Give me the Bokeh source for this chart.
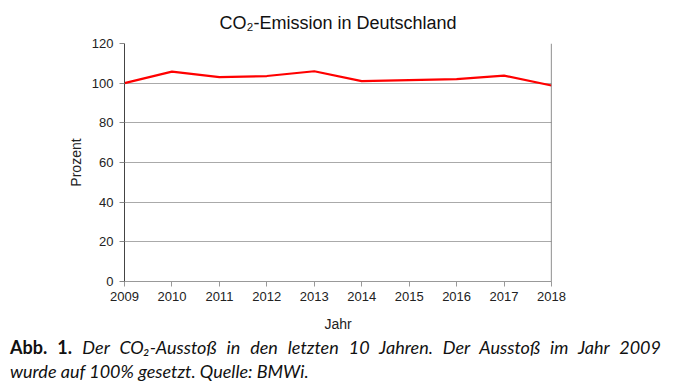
from bokeh.plotting import figure
from bokeh.models import Range1d, Span, FixedTicker, Div
from bokeh.layouts import column
from bokeh.embed import file_html
from bokeh.resources import INLINE

years = [2009, 2010, 2011, 2012, 2013, 2014, 2015, 2016, 2017, 2018]
prozent = [100.0, 105.8, 103.0, 103.6, 106.0, 101.0, 101.5, 102.0, 103.8, 98.8]
y_ticks = [0, 20, 40, 60, 80, 100, 120]

title_text = "CO\u2082-Emission in Deutschland"
x_label = "Jahr"
y_label = "Prozent"
cap_bold = "Abb. 1."
cap_line1 = "Der CO\u2082-Ausstoß in den letzten 10 Jahren. Der Ausstoß im Jahr 2009"
cap_line2 = "wurde auf 100% gesetzt. Quelle: BMWi."

FONT = "Liberation Sans"
CAP_FONT = "Lato"

p = figure(width=680, height=335, output_backend="svg", toolbar_location=None,
           x_range=Range1d(2009, 2018), y_range=Range1d(0, 120),
           min_border_left=124, min_border_right=129, min_border_top=43,
           min_border_bottom=54, title=title_text)
p.outline_line_color = None
p.title.align = "center"
p.title.text_font = FONT
p.title.text_font_size = "18px"
p.title.text_font_style = "normal"
p.title.text_color = "#111111"
p.title.standoff = 21

p.line(years, prozent, line_color="#ff0000", line_width=2.2)

p.xaxis.ticker = FixedTicker(ticks=years)
p.yaxis.ticker = FixedTicker(ticks=y_ticks)
p.xaxis.minor_tick_line_color = None
p.yaxis.minor_tick_line_color = None
for ax in (p.xaxis[0], p.yaxis[0]):
    ax.major_label_text_font = FONT
    ax.major_label_text_font_size = "13px"
    ax.major_label_text_color = "#222222"
    ax.axis_label_text_font = FONT
    ax.axis_label_text_font_size = "14px"
    ax.axis_label_text_font_style = "normal"
    ax.axis_label_text_color = "#222222"
    ax.major_tick_in = 0
    ax.major_tick_out = 5
p.xaxis.axis_label = x_label
p.yaxis.axis_label = y_label
p.xaxis.axis_line_color = "#999999"
p.xaxis.major_tick_line_color = "#999999"
p.yaxis.axis_line_color = "#444444"
p.yaxis.major_tick_line_color = "#888888"
p.xaxis.major_label_standoff = 5
p.yaxis.major_label_standoff = 6
p.xaxis.axis_label_standoff = 12
p.yaxis.axis_label_standoff = 5

p.xgrid.grid_line_color = None
p.ygrid.ticker = FixedTicker(ticks=y_ticks)
p.ygrid.grid_line_color = "#aaaaaa"
p.ygrid.grid_line_width = 1

p.add_layout(Span(location=2018, dimension="height", line_color="#444444", line_width=1.2))

base = ("font-family:'%s';font-size:18px;line-height:24px;color:#111111;"
        "margin-left:10px;width:651px;" % CAP_FONT)
caption_html = (
    '<div style="%stext-align:justify;text-align-last:justify;white-space:nowrap;">'
    '<b>%s</b> <i>%s</i></div>'
    '<div style="%stext-align:left;"><i>%s</i></div>'
    % (base, cap_bold, cap_line1, base, cap_line2)
)
cap = Div(text=caption_html, width=680, height=56, margin=0)

layout = column(p, cap, spacing=0)
open("out.html", "w").write(file_html(layout, INLINE))
